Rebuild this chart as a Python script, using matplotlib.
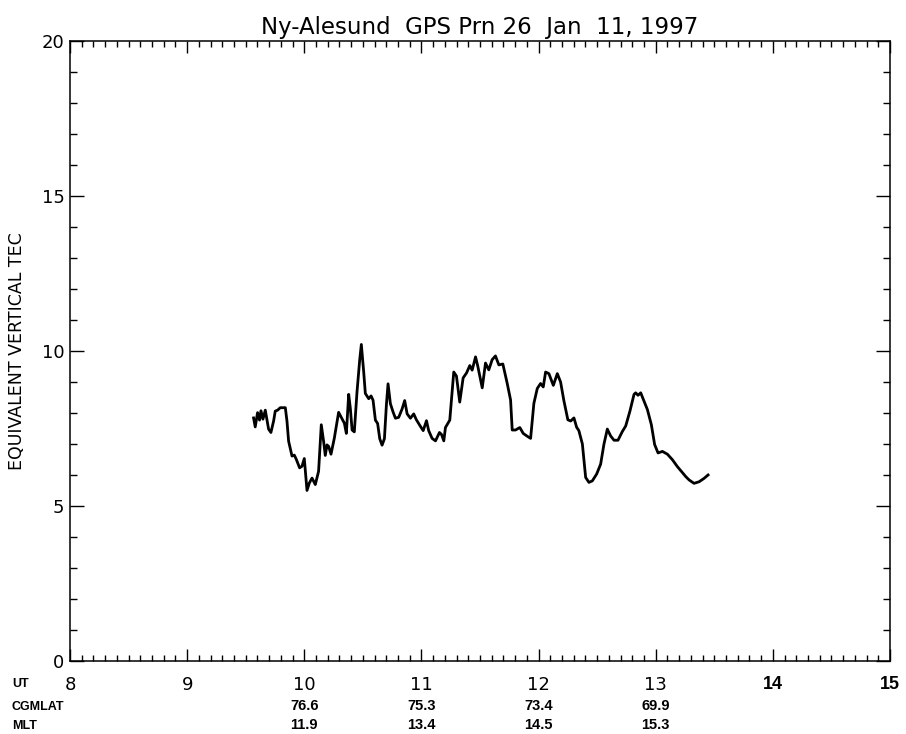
import matplotlib
matplotlib.use("Agg")
import matplotlib.pyplot as plt
from matplotlib.ticker import MultipleLocator
from matplotlib.transforms import blended_transform_factory

# UT hours and TEC
ut_hours = [9.567, 9.581, 9.601, 9.618, 9.630, 9.647, 9.667, 9.695, 9.715, 9.738,
            9.752, 9.772, 9.795, 9.838, 9.852, 9.866, 9.895, 9.915, 9.932, 9.960,
            9.980, 10.000, 10.023, 10.043, 10.066, 10.094, 10.122, 10.145, 10.165, 10.179,
            10.194, 10.208, 10.228, 10.256, 10.293, 10.322, 10.342, 10.359, 10.379, 10.393,
            10.408, 10.427, 10.450, 10.473, 10.487, 10.507, 10.521, 10.550, 10.570, 10.587,
            10.607, 10.626, 10.644, 10.664, 10.684, 10.701, 10.715, 10.735, 10.758, 10.778,
            10.806, 10.835, 10.857, 10.878, 10.906, 10.934, 10.957, 10.991, 11.015, 11.043,
            11.062, 11.091, 11.120, 11.154, 11.171, 11.191, 11.205, 11.242, 11.276, 11.299,
            11.327, 11.356, 11.385, 11.413, 11.433, 11.462, 11.481, 11.519, 11.547, 11.575,
            11.604, 11.632, 11.661, 11.695, 11.732, 11.761, 11.775, 11.803, 11.840, 11.869,
            11.903, 11.932, 11.960, 11.989, 12.017, 12.040, 12.060, 12.088, 12.126, 12.160,
            12.188, 12.216, 12.250, 12.274, 12.302, 12.325, 12.344, 12.374, 12.402, 12.430,
            12.459, 12.496, 12.530, 12.558, 12.587, 12.615, 12.644, 12.678, 12.715, 12.744,
            12.780, 12.815, 12.829, 12.849, 12.872, 12.900, 12.929, 12.963, 12.991, 13.020,
            13.057, 13.100, 13.143, 13.185, 13.220, 13.256, 13.285, 13.327, 13.370, 13.413,
            13.447]
tec = [7.84, 7.55, 8.01, 7.77, 8.07, 7.80, 8.09, 7.48, 7.37, 7.74,
       8.06, 8.09, 8.17, 8.17, 7.74, 7.09, 6.61, 6.64, 6.50, 6.23,
       6.28, 6.53, 5.50, 5.74, 5.90, 5.69, 6.12, 7.62, 7.08, 6.63,
       6.97, 6.92, 6.67, 7.18, 8.02, 7.81, 7.67, 7.34, 8.60, 8.15,
       7.45, 7.39, 8.68, 9.71, 10.21, 9.33, 8.63, 8.46, 8.55, 8.41,
       7.77, 7.66, 7.17, 6.96, 7.17, 8.27, 8.94, 8.30, 8.03, 7.83,
       7.86, 8.13, 8.40, 7.97, 7.83, 7.97, 7.78, 7.57, 7.43, 7.75,
       7.43, 7.18, 7.10, 7.37, 7.31, 7.10, 7.53, 7.77, 9.32, 9.19,
       8.35, 9.13, 9.29, 9.53, 9.38, 9.81, 9.51, 8.81, 9.61, 9.39,
       9.72, 9.84, 9.55, 9.58, 8.96, 8.42, 7.45, 7.45, 7.53, 7.34,
       7.25, 7.18, 8.31, 8.79, 8.95, 8.84, 9.32, 9.27, 8.89, 9.27,
       9.00, 8.40, 7.78, 7.74, 7.84, 7.54, 7.43, 7.00, 5.92, 5.76,
       5.81, 6.03, 6.35, 6.99, 7.48, 7.26, 7.12, 7.12, 7.40, 7.58,
       8.06, 8.60, 8.65, 8.57, 8.65, 8.38, 8.11, 7.62, 6.98, 6.71,
       6.76, 6.67, 6.49, 6.27, 6.11, 5.95, 5.84, 5.73, 5.78, 5.89,
       6.00]

# extra axis rows under the UT labels
row_hours = [10, 11, 12, 13]
cgmlat = ["76.6", "75.3", "73.4", "69.9"]
mlt = ["11.9", "13.4", "14.5", "15.3"]

narrow = ["Liberation Sans Narrow", "Liberation Sans", "DejaVu Sans"]

fig = plt.figure(figsize=(9.06, 7.34), dpi=100)
ax = fig.add_axes([0.0773, 0.0995, 0.905, 0.8447])

ax.plot(ut_hours, tec, color="black", linewidth=2.0)

ax.set_xlim(8, 15)
ax.set_ylim(0, 20)
ax.xaxis.set_major_locator(MultipleLocator(1))
ax.xaxis.set_minor_locator(MultipleLocator(0.1))
ax.yaxis.set_major_locator(MultipleLocator(5))
ax.yaxis.set_minor_locator(MultipleLocator(1))

ax.tick_params(axis="both", which="both", direction="in", top=True, right=True,
               colors="black", width=1.0)
ax.tick_params(axis="x", which="major", length=8.5, pad=11, labelsize=13)
ax.tick_params(axis="x", which="minor", length=4.5)
ax.tick_params(axis="y", which="major", length=10, pad=4, labelsize=13)
ax.tick_params(axis="y", which="minor", length=5)
for s in ax.spines.values():
    s.set_linewidth(1.1)

# 14 and 15 come out bold in the original scan
for lab in ax.get_xticklabels():
    if lab.get_text() in ("14", "15"):
        lab.set_fontweight("bold")
        lab.set_family(narrow)

ax.set_ylabel("EQUIVALENT VERTICAL TEC", fontsize=12.5, labelpad=11)
ax.set_title("Ny-Alesund  GPS Prn 26  Jan  11, 1997", fontsize=16.5, pad=5)

trans = blended_transform_factory(ax.transData, fig.transFigure)
fig.text(0.013, 1 - 684 / 734, "UT", fontsize=9, fontweight="bold", family=narrow,
         va="center", ha="left")
fig.text(0.013, 1 - 707 / 734, "CGMLAT", fontsize=9, fontweight="bold", family=narrow,
         va="center", ha="left")
fig.text(0.013, 1 - 726 / 734, "MLT", fontsize=9, fontweight="bold", family=narrow,
         va="center", ha="left")
for h, c, m in zip(row_hours, cgmlat, mlt):
    ax.text(h, 1 - 706 / 734, c, transform=trans, fontsize=10.5, fontweight="bold",
            family=narrow, ha="center", va="center")
    ax.text(h, 1 - 725 / 734, m, transform=trans, fontsize=10.5, fontweight="bold",
            family=narrow, ha="center", va="center")

plt.savefig("out.png", dpi=100)
plt.close()
